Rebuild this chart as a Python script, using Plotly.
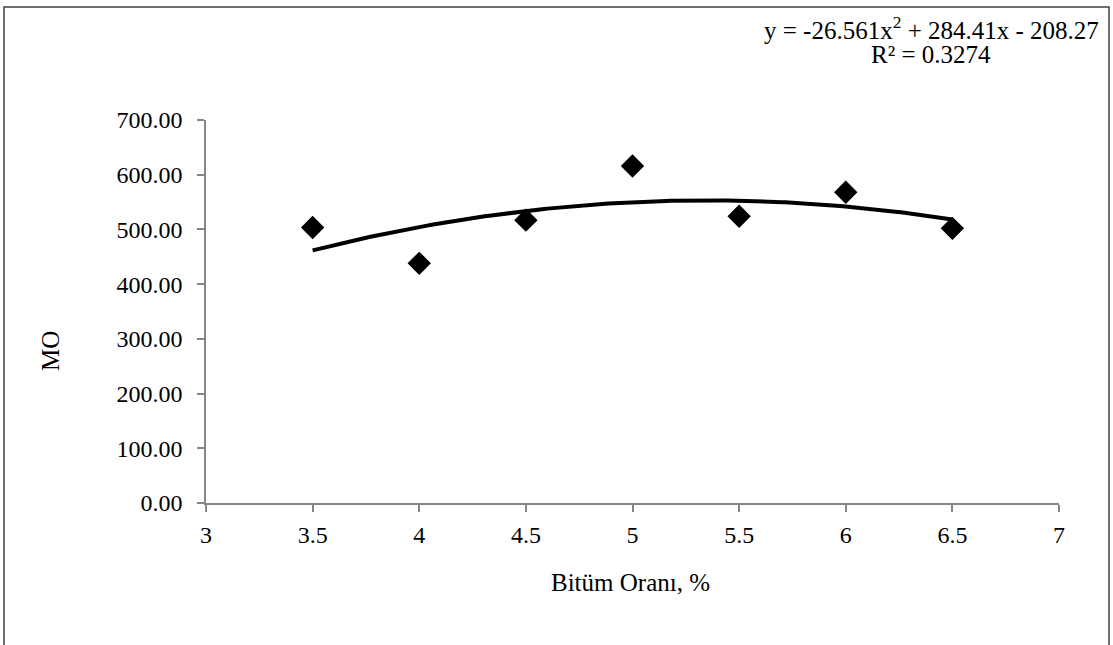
import numpy as np
import plotly.graph_objects as go

# Data
bitum_orani = [3.5, 4.0, 4.5, 5.0, 5.5, 6.0, 6.5]
mo_values = [503.5, 438.0, 517.0, 616.0, 524.0, 568.0, 502.0]

# Trendline coefficients (as shown on chart)
coef_a, coef_b, coef_c = -26.561, 284.41, -208.27
r_squared = 0.3274

x_ticks = [3, 3.5, 4, 4.5, 5, 5.5, 6, 6.5, 7]
x_tick_labels = ["3", "3.5", "4", "4.5", "5", "5.5", "6", "6.5", "7"]
y_ticks = [0, 100, 200, 300, 400, 500, 600, 700]
y_tick_labels = ["%.2f" % v for v in y_ticks]

W, H = 1113, 645
L, R, T, B = 206, 1059, 120, 503

def px(p):
    return (p - L) / (R - L)

def py(p):
    return (B - p) / (B - T)

xs = np.linspace(min(bitum_orani), max(bitum_orani), 200)
ys = coef_a * xs**2 + coef_b * xs + coef_c

FONT = "Liberation Serif, Times New Roman, serif"

fig = go.Figure()
fig.add_trace(go.Scatter(x=xs, y=ys, mode="lines",
                         line=dict(color="black", width=4), hoverinfo="skip",
                         showlegend=False))
fig.add_trace(go.Scatter(x=bitum_orani, y=mo_values, mode="markers",
                         marker=dict(symbol="diamond", size=18, color="black",
                                     line=dict(width=0)),
                         showlegend=False))

axis_common = dict(showgrid=False, zeroline=False, showline=True,
                   linecolor="#868686", linewidth=1.5, ticks="outside",
                   ticklen=7, tickcolor="#868686", tickwidth=1.5,
                   tickfont=dict(family=FONT, size=24, color="black"))

fig.update_xaxes(range=[3, 7], tickvals=x_ticks, ticktext=x_tick_labels,
                 ticklabelstandoff=2, **axis_common)
fig.update_yaxes(range=[0, 700], tickvals=y_ticks, ticktext=y_tick_labels,
                 ticklabelstandoff=10, **axis_common)

fig.update_layout(
    width=W, height=H,
    margin=dict(l=L, r=W - R, t=T, b=H - B, autoexpand=False),
    paper_bgcolor="white", plot_bgcolor="white",
    font=dict(family=FONT, color="black"),
    showlegend=False,
)

# Outer chart border
fig.add_shape(type="rect", xref="paper", yref="paper",
              x0=px(4), x1=px(1109), y0=py(660), y1=py(7),
              line=dict(color="#404040", width=1.5), fillcolor="rgba(0,0,0,0)",
              layer="below")

# Axis titles
fig.add_annotation(text="Bitüm Oranı, %", xref="paper", yref="paper",
                   x=px(630), y=py(582), showarrow=False,
                   font=dict(family=FONT, size=25, color="black"),
                   xanchor="center", yanchor="middle")
fig.add_annotation(text="MO", xref="paper", yref="paper",
                   x=px(50), y=py(351), showarrow=False, textangle=-90,
                   font=dict(family=FONT, size=25, color="black"),
                   xanchor="center", yanchor="middle")

# Trendline equation
fig.add_annotation(text="y = %.3fx<sup>2</sup> + %.2fx - %.2f" % (coef_a, coef_b, -coef_c),
                   xref="paper", yref="paper", x=px(931), y=py(28), showarrow=False,
                   font=dict(family=FONT, size=25, color="black"),
                   xanchor="center", yanchor="middle")
fig.add_annotation(text="R² = %.4f" % r_squared,
                   xref="paper", yref="paper", x=px(931), y=py(54), showarrow=False,
                   font=dict(family=FONT, size=25, color="black"),
                   xanchor="center", yanchor="middle")

fig.write_html("out.html", config={"displayModeBar": False},
               post_script="document.body.style.margin='0';document.body.style.overflow='hidden';")
